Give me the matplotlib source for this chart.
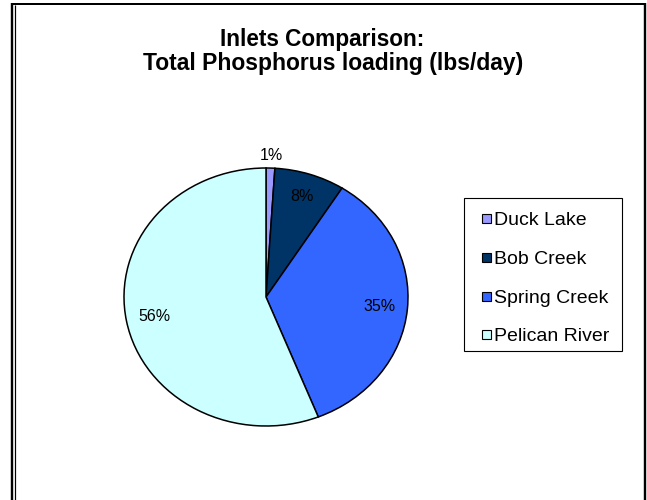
import matplotlib
matplotlib.use("Agg")
import matplotlib.pyplot as plt
from matplotlib.lines import Line2D
from matplotlib.patches import Rectangle
import numpy as np

# Inlet shares of total phosphorus loading (percent)
inlets = ["Duck Lake", "Bob Creek", "Spring Creek", "Pelican River"]
shares = [1, 8, 35, 56]
colors = ["#9999FF", "#003366", "#3366FF", "#CCFFFF"]
label_radius = [1.1, 0.82, 0.8, 0.8]

title_lines = ["Inlets Comparison:", "Total Phosphorus loading (lbs/day)"]

plt.rcParams["font.family"] = ["Liberation Sans", "DejaVu Sans"]

W, H = 647, 500
fig = plt.figure(figsize=(W / 100, H / 100), dpi=100)
fig.patch.set_facecolor("white")


def fx(px):
    return px / W


def fy(py):
    return 1 - py / H


# page frame
frame_kw = dict(transform=fig.transFigure, color="black", solid_capstyle="butt")
fig.add_artist(Line2D([fx(11), fx(646)], [fy(4), fy(4)], lw=2.0 * 0.72, **frame_kw))
fig.add_artist(Line2D([fx(12.2), fx(12.2)], [fy(3), fy(500)], lw=2.4 * 0.72, **frame_kw))
fig.add_artist(Line2D([fx(15.3), fx(15.3)], [fy(5), fy(500)], lw=1.2 * 0.72, **frame_kw))
fig.add_artist(Line2D([fx(644.5), fx(644.5)], [fy(3), fy(500)], lw=2.4 * 0.72, **frame_kw))

# title
fig.text(fx(322), fy(46), title_lines[0], ha="center", va="baseline",
         fontsize=16.3, fontweight="bold")
fig.text(fx(333), fy(70), title_lines[1], ha="center", va="baseline",
         fontsize=16.5, fontweight="bold")

# pie
ax = fig.add_axes([fx(124), fy(426), (408 - 124) / W, (426 - 168) / H])
wedges, _ = ax.pie(shares, colors=colors, startangle=90, counterclock=False,
                   wedgeprops=dict(edgecolor="black", linewidth=1.1))
ax.set_aspect("auto")
ax.set_xlim(-1, 1)
ax.set_ylim(-1, 1)
ax.axis("off")

for w, v, r in zip(wedges, shares, label_radius):
    ang = np.deg2rad((w.theta1 + w.theta2) / 2)
    ax.text(r * np.cos(ang), r * np.sin(ang), f"{v}%", ha="center", va="center",
            fontsize=11.5, color="black")

# legend box with square swatches
fig.add_artist(Rectangle((fx(464), fy(351)), (622 - 464) / W, (351 - 198) / H,
                         transform=fig.transFigure, facecolor="white",
                         edgecolor="black", linewidth=0.8))
row_y = [218, 257, 296, 334]
for name, c, ry in zip(inlets, colors, row_y):
    fig.add_artist(Rectangle((fx(482), fy(ry + 4.5)), 9 / W, 9 / H,
                             transform=fig.transFigure, facecolor=c,
                             edgecolor="black", linewidth=0.8))
    fig.text(fx(494), fy(ry + 7), name, ha="left", va="baseline", fontsize=14)

fig.savefig("out.png", dpi=100, facecolor="white")
